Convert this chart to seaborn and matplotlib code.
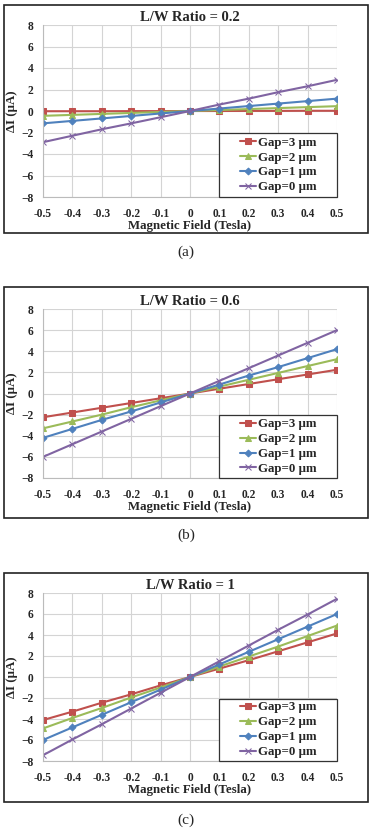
import numpy as np
import seaborn as sns
import matplotlib
matplotlib.use("Agg")
import matplotlib.pyplot as plt
from matplotlib.patches import Rectangle

# data
field = [-0.5, -0.4, -0.3, -0.2, -0.1, 0, 0.1, 0.2, 0.3, 0.4, 0.5]
gap_labels = ["Gap=3 µm", "Gap=2 µm", "Gap=1 µm", "Gap=0 µm"]
titles = ["L/W Ratio = 0.2", "L/W Ratio = 0.6", "L/W Ratio = 1"]
captions = ["(a)", "(b)", "(c)"]

ratio02 = [
    [-0.02, -0.02, -0.02, -0.01, -0.01, 0, 0.0, 0.01, 0.01, 0.02, 0.02],
    [-0.45, -0.36, -0.27, -0.18, -0.09, 0, 0.09, 0.18, 0.27, 0.36, 0.45],
    [-1.15, -0.92, -0.69, -0.46, -0.23, 0, 0.23, 0.46, 0.69, 0.92, 1.15],
    [-2.9, -2.3, -1.7, -1.15, -0.58, 0, 0.6, 1.15, 1.75, 2.3, 2.9],
]
ratio06 = [
    [-2.25, -1.8, -1.35, -0.9, -0.45, 0, 0.45, 0.9, 1.35, 1.8, 2.25],
    [-3.3, -2.65, -2.0, -1.3, -0.65, 0, 0.65, 1.3, 1.95, 2.6, 3.25],
    [-4.2, -3.35, -2.5, -1.7, -0.85, 0, 0.85, 1.7, 2.5, 3.35, 4.2],
    [-6.0, -4.8, -3.6, -2.4, -1.2, 0, 1.2, 2.4, 3.6, 4.8, 6.0],
]
ratio1 = [
    [-4.1, -3.3, -2.45, -1.65, -0.8, 0, 0.8, 1.6, 2.45, 3.3, 4.15],
    [-4.9, -3.9, -2.95, -1.95, -1.0, 0, 1.0, 1.95, 2.9, 3.9, 4.9],
    [-6.0, -4.8, -3.6, -2.4, -1.2, 0, 1.2, 2.4, 3.6, 4.8, 6.0],
    [-7.45, -5.95, -4.5, -3.0, -1.5, 0, 1.5, 3.0, 4.5, 5.95, 7.45],
]
panels = [ratio02, ratio06, ratio1]

colors = ["#C0504D", "#9BBB59", "#4F81BD", "#8064A2"]
markers = ["s", "^", "D", "x"]
msizes = [4.5, 5, 3.5, 5]

sns.set_theme(style="whitegrid")
plt.rcParams["font.family"] = ["Liberation Serif", "DejaVu Serif"]
plt.rcParams["font.weight"] = "bold"

W, H = 376, 831
fig = plt.figure(figsize=(W / 100, H / 100), dpi=100)

# pixel layout: (plot top, plot bottom, box top, box bottom, caption y)
layout = [
    (25, 197, 5, 233, 252),
    (309, 478, 287, 518, 535),
    (593, 761, 573, 802, 820),
]
plot_left, plot_right = 43, 337

for k, (data, (ptop, pbot, btop, bbot, capy)) in enumerate(zip(panels, layout)):
    # outer frame around each chart
    fig.patches.append(Rectangle((4 / W, 1 - bbot / H), 364 / W, (bbot - btop) / H,
                                 transform=fig.transFigure, fill=False,
                                 edgecolor="#222222", linewidth=1.2))
    ax = fig.add_axes([plot_left / W, 1 - pbot / H,
                       (plot_right - plot_left) / W, (pbot - ptop) / H])
    for vals, lab, c, m, ms in zip(data, gap_labels, colors, markers, msizes):
        sns.lineplot(x=field, y=vals, ax=ax, color=c, marker=m, markersize=ms,
                     markeredgecolor=c, linewidth=1.5, label=lab)
    ax.set_xlim(-0.5, 0.5)
    ax.set_ylim(-8, 8)
    ax.set_xticks(field)
    ax.set_xticklabels(["-0.5", "-0.4", "-0.3", "-0.2", "-0.1", "0",
                        "0.1", "0.2", "0.3", "0.4", "0.5"])
    ax.set_yticks(np.arange(-8, 9, 2))
    ax.tick_params(labelsize=8.3, length=0)
    ax.tick_params(axis="x", pad=8)
    ax.tick_params(axis="y", pad=7)
    ax.grid(True, color="#D4D4D4", linewidth=0.8)
    for side in ["top", "right"]:
        ax.spines[side].set_visible(False)
    for side in ["left", "bottom"]:
        ax.spines[side].set_color("#BBBBBB")
        ax.spines[side].set_linewidth(0.8)
    ax.set_title(titles[k], fontsize=10.5, fontweight="bold", pad=3)
    ax.set_xlabel("Magnetic Field (Tesla)", fontsize=9.3, fontweight="bold", labelpad=0)
    ax.set_ylabel("ΔI (µA)", fontsize=9.3, fontweight="bold", labelpad=2)

    # Excel-style legend box in the lower right corner
    ax.add_patch(Rectangle((0.599, 0.0), 0.401, 0.372, transform=ax.transAxes,
                           facecolor="white", edgecolor="#333333",
                           linewidth=0.9, zorder=5, clip_on=False))
    leg = ax.legend(loc="center", bbox_to_anchor=(0.7995, 0.186), fontsize=9.3,
                    frameon=False, handlelength=1.3, handletextpad=0.1,
                    borderpad=0.1, labelspacing=0.22, borderaxespad=0.0)
    leg.set_zorder(6)
    for t in leg.get_texts():
        t.set_fontweight("bold")
    fig.text(186 / W, 1 - capy / H, captions[k], ha="center", va="center",
             fontsize=11, fontweight="normal")

fig.savefig("out.png", dpi=100)
